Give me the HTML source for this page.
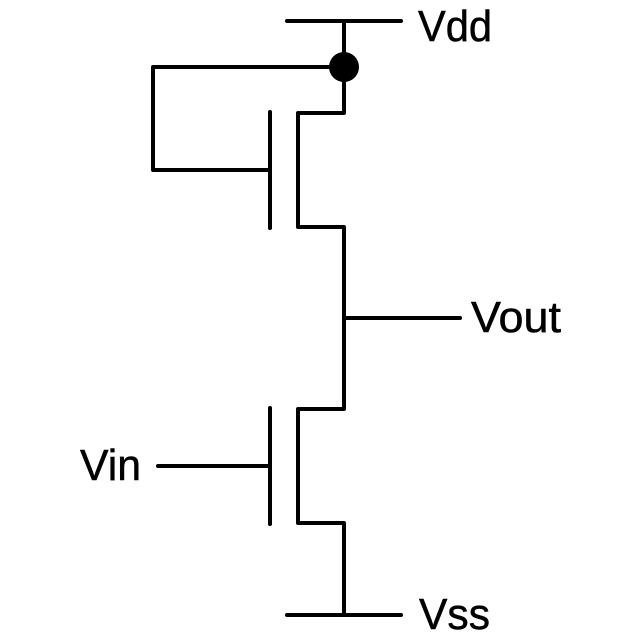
<!DOCTYPE html>
<html><head><meta charset="utf-8"><style>html,body{margin:0;padding:0;background:#fff}svg{display:block}</style></head>
<body>
<svg width="640" height="640" viewBox="0 0 640 640" xmlns="http://www.w3.org/2000/svg">
<rect width="640" height="640" fill="#fff"/>
<g fill="none" stroke="#000" stroke-width="4" stroke-linecap="round" stroke-linejoin="round">
<path d="M287 21H401"/>
<path d="M344 21V113H298V227H344V409H298V523H344V615"/>
<path d="M287 615H401"/>
<path d="M344 67H153V170H270"/>
<path d="M270 112V228"/>
<path d="M270 408V524"/>
<path d="M158 466H270"/>
<path d="M344 318H460"/>
</g>
<circle cx="344" cy="67" r="15" fill="#000"/>
<g font-family="'Liberation Sans',sans-serif" font-size="44" fill="#000" stroke="#000" stroke-width="0.5">
<text x="418" y="41" textLength="74" lengthAdjust="spacingAndGlyphs">Vdd</text>
<text x="471" y="332" textLength="90" lengthAdjust="spacingAndGlyphs">Vout</text>
<text x="80" y="480" textLength="61" lengthAdjust="spacingAndGlyphs">Vin</text>
<text x="419" y="629" textLength="71" lengthAdjust="spacingAndGlyphs">Vss</text>
</g>
</svg>
</body></html>
